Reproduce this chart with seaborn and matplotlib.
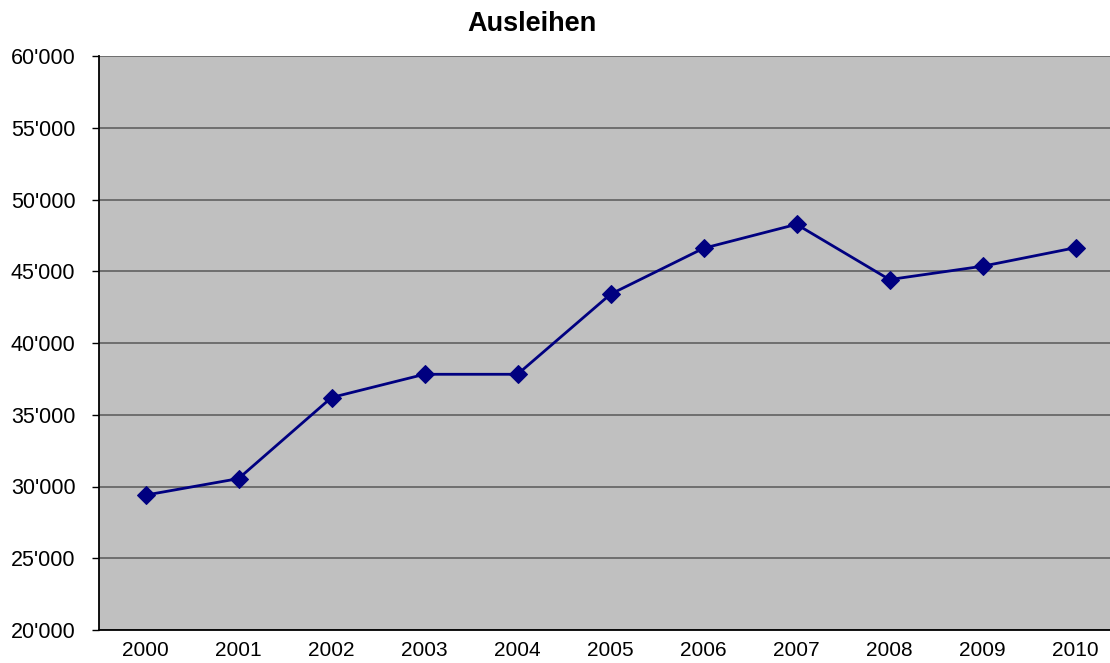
import matplotlib
matplotlib.use("Agg")
import matplotlib.pyplot as plt
import seaborn as sns
import numpy as np
import pandas as pd
from matplotlib.ticker import FuncFormatter, FixedLocator

years = ["2000", "2001", "2002", "2003", "2004", "2005", "2006", "2007", "2008", "2009", "2010"]
ausleihen = [29400, 30550, 36200, 37820, 37820, 43400, 46600, 48270, 44420, 45350, 46640]

df = pd.DataFrame({"pos": np.arange(len(years)), "Ausleihen": ausleihen})

sns.set_style("white")
plt.rcParams['font.family'] = ['Liberation Sans', 'DejaVu Sans']
plt.rcParams['text.color'] = 'black'
plt.rcParams['xtick.color'] = 'black'
plt.rcParams['ytick.color'] = 'black'

fig = plt.figure(figsize=(11.1, 6.63), dpi=100)
ax = fig.add_axes([99/1110, 1 - 630/663, 1023/1110, 574/663])
ax.set_facecolor("#c0c0c0")

sns.lineplot(data=df, x="pos", y="Ausleihen", ax=ax, color="#000080", linewidth=2.0,
             marker="D", markersize=9, markeredgecolor="#000080", zorder=3)

ax.set_xlim(-0.5, len(years) - 0.5)
ax.set_ylim(20000, 60000)
ax.set_yticks(np.arange(20000, 60001, 5000))
ax.yaxis.set_major_formatter(FuncFormatter(lambda v, p: f"{int(v):,}".replace(",", "'")))
ax.grid(axis="y", color="#606060", linewidth=1.2)
ax.set_axisbelow(True)

ax.set_xticks(np.arange(len(years)))
ax.set_xticklabels(years)
ax.xaxis.set_minor_locator(FixedLocator(np.arange(-0.5, len(years), 1.0)))
ax.tick_params(axis="x", which="major", length=0, labelsize=15, pad=8, labelcolor="black")
ax.tick_params(axis="x", which="minor", length=5, width=1, color="black", direction="out")
ax.tick_params(axis="y", length=5, width=1, color="black", direction="out", labelsize=15.5,
               pad=12, left=True, labelcolor="black")

for s in ["top", "right"]:
    ax.spines[s].set_visible(False)
for s in ["left", "bottom"]:
    ax.spines[s].set_color("black")
    ax.spines[s].set_linewidth(1.3)

ax.set_xlabel("")
ax.set_ylabel("")
fig.text(532/1110, 1 - 24/663, "Ausleihen", ha="center", va="center", fontsize=19.5,
         fontweight="bold", color="black")

fig.savefig("out.png", dpi=100)
